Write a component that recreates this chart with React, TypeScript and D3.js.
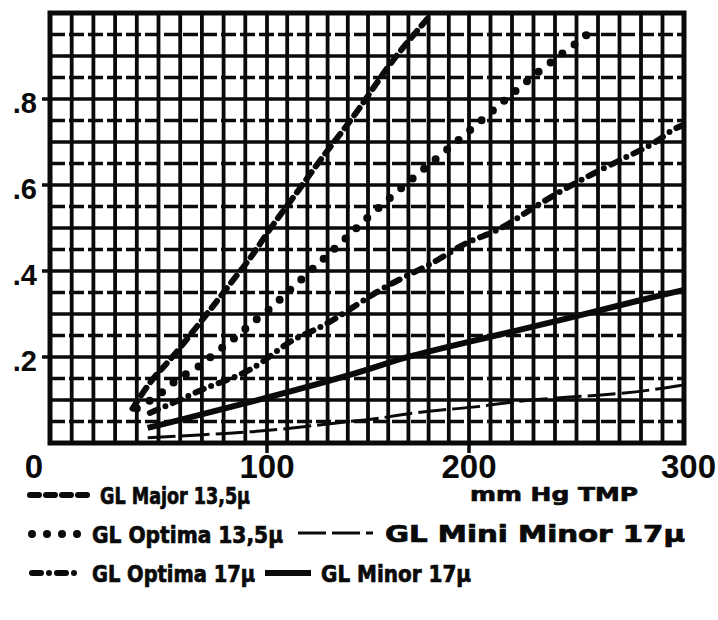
import React from "react";
import * as d3 from "d3";

// ---- data ----
const xTickValues = [0, 100, 200, 300];
const yTickValues = [0.2, 0.4, 0.6, 0.8];
const yTickLabels = [".2", ".4", ".6", ".8"];
const xAxisTitle = "mm Hg TMP";

const majorX = [38, 47, 55, 66, 77, 86, 94, 100, 113, 128, 145, 160, 180];
const majorY = [0.08, 0.15, 0.19, 0.26, 0.33, 0.39, 0.44, 0.49, 0.57, 0.67, 0.77, 0.88, 0.99];

const optima135X = [40, 52, 59, 67, 72, 87, 93, 100, 107, 113, 126, 133, 152, 173, 195, 215, 234, 254, 258];
const optima135Y = [0.08, 0.116, 0.153, 0.17, 0.193, 0.251, 0.28, 0.305, 0.337, 0.363, 0.42, 0.449, 0.535, 0.619, 0.705, 0.79, 0.872, 0.944, 0.965];

const optima17X = [46, 60, 72, 86, 98, 113, 126, 153, 165, 175, 185, 200, 212, 226, 238, 252, 273, 287, 294, 300];
const optima17Y = [0.07, 0.1, 0.13, 0.153, 0.186, 0.246, 0.263, 0.349, 0.379, 0.402, 0.426, 0.472, 0.488, 0.535, 0.572, 0.612, 0.665, 0.698, 0.728, 0.74];

const miniMinorX = [45, 84, 105, 145, 150, 165, 185, 206, 224, 265, 285, 300];
const miniMinorY = [0.012, 0.023, 0.03, 0.053, 0.053, 0.065, 0.077, 0.084, 0.1, 0.112, 0.123, 0.135];

const minorX = [45, 91, 146, 166, 204, 249, 280, 300];
const minorY = [0.035, 0.093, 0.163, 0.198, 0.24, 0.293, 0.333, 0.356];

const seriesNames = [
  "GL Major 13,5\u03bc",
  "GL Optima 13,5\u03bc",
  "GL Mini Minor 17\u03bc",
  "GL Optima 17\u03bc",
  "GL Minor 17\u03bc",
];

type Style = { width: number; dash?: string; cap: "round" | "butt" };
const styles: Style[] = [
  { width: 6, dash: "9 7", cap: "round" },
  { width: 8, dash: "0 15", cap: "round" },
  { width: 3, dash: "28 6", cap: "butt" },
  { width: 6, dash: "9 8 0 8", cap: "round" },
  { width: 6, cap: "butt" },
];

export default function App() {
  const W = 718;
  const H = 620;
  const left = 50, right = 684, top = 13, bottom = 443;

  const x = d3.scaleLinear().domain([0, 100, 200, 300]).range([left, 267, 469, right]);
  const y = d3.scaleLinear().domain([0, 1]).range([bottom, top]);

  const line = d3
    .line<[number, number]>()
    .x((d) => x(d[0]))
    .y((d) => y(d[1]))
    .curve(d3.curveBasis);

  const zip = (xs: number[], ys: number[]) => xs.map((v, i) => [v, ys[i]] as [number, number]);
  const series = [
    zip(majorX, majorY),
    zip(optima135X, optima135Y),
    zip(miniMinorX, miniMinorY),
    zip(optima17X, optima17Y),
    zip(minorX, minorY),
  ];

  const vLines = d3.range(10, 300, 10);
  const hLines = d3.range(1, 20).map((i) => i * 0.05);

  const ink = "#0a0a0a";
  const numFont = "'Liberation Sans', Arial, sans-serif";
  const legFont = "'DejaVu Sans Condensed', 'Liberation Sans', sans-serif";

  // legend layout: [seriesIndex, symbolX1, symbolX2, symbolY, textX, textLen]
  const legend: [number, number, number, number, number, number][] = [
    [0, 30, 90, 495, 100, 150],
    [1, 32, 80, 534, 92, 191],
    [2, 298, 373, 533, 385, 300],
    [3, 32, 82, 573, 92, 163],
    [4, 265, 311, 573, 321, 150],
  ];

  return (
    <svg width={W} height={H} style={{ display: "block", position: "absolute", left: 0, top: 0, background: "#fff" }}>
      <defs>
        <clipPath id="plot">
          <rect x={left} y={top} width={right - left} height={bottom - top} />
        </clipPath>
      </defs>
      {/* grid */}
      {vLines.map((v) => (
        <line key={"v" + v} x1={x(v)} x2={x(v)} y1={top} y2={bottom} stroke={ink} strokeWidth={3.8} />
      ))}
      {hLines.map((v, i) => (
        <line
          key={"h" + i}
          x1={left}
          x2={right}
          y1={y(v)}
          y2={y(v)}
          stroke={ink}
          strokeWidth={3.4}
          strokeDasharray={i % 2 === 0 ? "15 4" : undefined}
        />
      ))}
      <rect x={left} y={top} width={right - left} height={bottom - top} fill="none" stroke={ink} strokeWidth={5} />
      {/* ticks */}
      {yTickValues.map((v) => (
        <line key={"yt" + v} x1={left - 8} x2={left} y1={y(v)} y2={y(v)} stroke={ink} strokeWidth={3.5} />
      ))}
      {[100, 200].map((v) => (
        <line key={"xt" + v} x1={x(v)} x2={x(v)} y1={bottom} y2={bottom + 10} stroke={ink} strokeWidth={3.5} />
      ))}
      {/* curves */}
      <g clipPath="url(#plot)">
        {series.map((s, i) => (
          <path
            key={"s" + i}
            d={line(s) || ""}
            fill="none"
            stroke={ink}
            strokeWidth={styles[i].width}
            strokeDasharray={styles[i].dash}
            strokeLinecap={styles[i].cap}
          />
        ))}
      </g>
      {/* y labels */}
      {yTickValues.map((v, i) => (
        <text key={"yl" + v} x={37} y={y(v) + 14} textAnchor="end" fontFamily={numFont} fontWeight="bold" fontSize={29} fill={ink}>
          {yTickLabels[i]}
        </text>
      ))}
      {/* x labels */}
      {xTickValues.map((v) => (
        <text
          key={"xl" + v}
          x={v === 0 ? x(v) - 7 : v === 300 ? x(v) + 32 : x(v)}
          y={478}
          textAnchor={v === 0 ? "end" : v === 300 ? "end" : "middle"}
          fontFamily={numFont}
          fontWeight="bold"
          fontSize={33}
          fill={ink}
        >
          {String(v)}
        </text>
      ))}
      <text x={470} y={501} fontFamily={legFont} fontWeight="bold" fontSize={19} fill={ink} stroke={ink} strokeWidth={0.6} textLength={168} lengthAdjust="spacingAndGlyphs">
        {xAxisTitle}
      </text>
      {/* legend */}
      {legend.map(([si, x1, x2, ly, tx, tl]) => (
        <g key={"lg" + si}>
          <line
            x1={x1}
            x2={x2}
            y1={ly}
            y2={ly}
            stroke={ink}
            strokeWidth={styles[si].width}
            strokeDasharray={styles[si].dash}
            strokeLinecap={styles[si].cap}
          />
          <text x={tx} y={ly + 9} fontFamily={legFont} fontWeight="bold" fontSize={23} fill={ink} stroke={ink} strokeWidth={0.7} textLength={tl} lengthAdjust="spacingAndGlyphs">
            {seriesNames[si]}
          </text>
        </g>
      ))}
    </svg>
  );
}
